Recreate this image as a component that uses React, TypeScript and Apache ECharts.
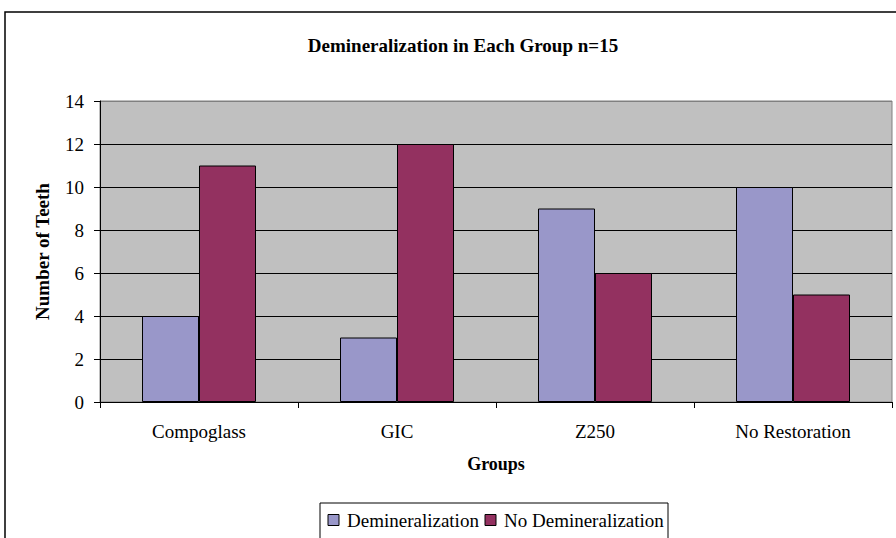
import React, { useEffect, useRef } from "react";
import * as echarts from "echarts";

const categories = ["Compoglass", "GIC", "Z250", "No Restoration"];
const demineralization = [4, 3, 9, 10];
const noDemineralization = [11, 12, 6, 5];
const seriesNames = ["Demineralization", "No Demineralization"];
const seriesColors = ["#9997c9", "#933160"];
const titleText = "Demineralization in Each Group n=15";

const FONT = "Liberation Serif";

export default function App() {
  const ref = useRef<HTMLDivElement>(null);
  useEffect(() => {
    if (!ref.current) return;
    const chart = echarts.init(ref.current, undefined, { renderer: "svg" });
    const legendTextStyle = {
      font: "normal 19px \"Liberation Serif\", \"Times New Roman\", serif",
      fontFamily: "\"Liberation Serif\", \"Times New Roman\", serif",
      fontSize: 19,
      fill: "#000",
      verticalAlign: "middle",
    };
    const legendX = [328, 485];
    chart.setOption({
      animation: false,
      backgroundColor: "#ffffff",
      textStyle: { fontFamily: FONT, color: "#000" },
      title: {
        text: titleText,
        left: 458,
        textAlign: "center",
        top: 31,
        textStyle: { fontFamily: FONT, fontWeight: "bold", fontSize: 19, color: "#000" },
      },
      graphic: [
        {
          type: "rect",
          shape: { x: 5, y: 12, width: 900, height: 540 },
          style: { fill: "none", stroke: "#000", lineWidth: 1.5 },
          z: 100,
        },
        {
          type: "rect",
          shape: { x: 320, y: 503, width: 348, height: 60 },
          style: { fill: "#fff", stroke: "#000", lineWidth: 1 },
          z: 50,
        },
        ...seriesNames.flatMap((name, i) => [
          {
            type: "rect",
            shape: { x: legendX[i], y: 514.5, width: 11, height: 11 },
            style: { fill: seriesColors[i], stroke: "#000", lineWidth: 1 },
            z: 51,
          },
          {
            type: "text",
            x: legendX[i] + 19,
            y: 520,
            style: { ...legendTextStyle, text: name },
            z: 51,
          },
        ]),
      ],
      grid: {
        left: 100,
        right: 4,
        top: 101,
        bottom: 136,
        show: true,
        backgroundColor: "#c0c0c0",
        borderColor: "#808080",
        borderWidth: 1,
      },
      xAxis: {
        type: "category",
        data: categories,
        name: "Groups",
        nameLocation: "middle",
        nameGap: 53,
        nameTextStyle: { fontFamily: FONT, fontWeight: "bold", fontSize: 18, color: "#000" },
        axisLine: { lineStyle: { color: "#000", width: 1 } },
        axisTick: { show: true, length: 6, alignWithLabel: false, lineStyle: { color: "#000" } },
        axisLabel: { fontFamily: FONT, fontSize: 19, color: "#000", margin: 20 },
      },
      yAxis: {
        type: "value",
        min: 0,
        max: 14,
        interval: 2,
        name: "Number of Teeth",
        nameLocation: "middle",
        nameGap: 48,
        nameRotate: 90,
        nameTextStyle: { fontFamily: FONT, fontWeight: "bold", fontSize: 19, color: "#000" },
        axisLine: { show: true, lineStyle: { color: "#000", width: 1 } },
        axisTick: { show: true, length: 6, lineStyle: { color: "#000" } },
        axisLabel: { fontFamily: FONT, fontSize: 19, color: "#000", margin: 16 },
        splitLine: {
          show: true,
          lineStyle: {
            color: ["#000", "#000", "#000", "#000", "#000", "#000", "#000", "#808080"],
            width: 1,
          },
        },
      },
      series: [
        {
          name: seriesNames[0],
          type: "bar",
          data: demineralization,
          barWidth: 57,
          barGap: "0%",
          itemStyle: { color: seriesColors[0], borderColor: "#000", borderWidth: 1 },
        },
        {
          name: seriesNames[1],
          type: "bar",
          data: noDemineralization,
          barWidth: 57,
          barGap: "0%",
          itemStyle: { color: seriesColors[1], borderColor: "#000", borderWidth: 1 },
        },
      ],
    });
    return () => chart.dispose();
  }, []);
  return (
    <div
      ref={ref}
      style={{ position: "fixed", left: 0, top: 0, width: 896, height: 538 }}
    />
  );
}
